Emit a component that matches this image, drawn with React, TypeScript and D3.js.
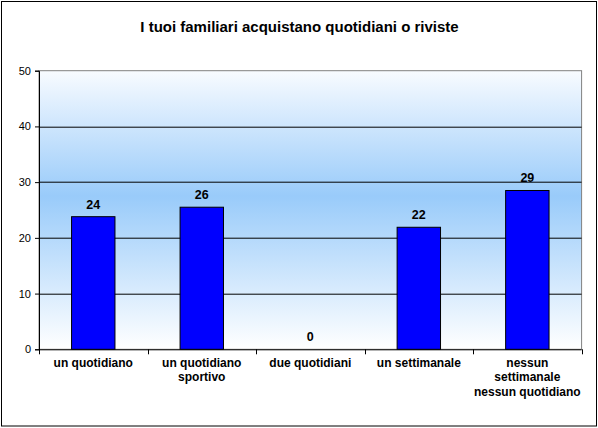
import { useEffect, useRef } from "react";
import * as d3 from "d3";

const categories = [
  ["un quotidiano"],
  ["un quotidiano", "sportivo"],
  ["due quotidiani"],
  ["un settimanale"],
  ["nessun", "settimanale", "nessun quotidiano"],
];
const values = [23.8, 25.5, 0, 21.9, 28.5];
const valueLabels = ["24", "26", "0", "22", "29"];
const yTicks = [0, 10, 20, 30, 40, 50];

const W = 598;
const H = 428;

export default function App() {
  const svgRef = useRef<SVGSVGElement>(null);

  useEffect(() => {
    const svg = d3.select(svgRef.current);
    svg.selectAll("*").remove();

    const margin = { top: 70.7, right: 16.4, bottom: 78.7, left: 39 };
    const width = W - margin.left - margin.right;
    const height = H - margin.top - margin.bottom;

    // outer frame
    svg.append("rect")
      .attr("x", 1.5).attr("y", 1.5)
      .attr("width", W - 3).attr("height", H - 3.5)
      .attr("fill", "#fff").attr("stroke", "#000").attr("stroke-width", 1);

    svg.append("text")
      .attr("x", W / 2 + 0.5).attr("y", 32)
      .attr("text-anchor", "middle")
      .style("font-family", "Arial, 'Liberation Sans', sans-serif")
      .style("font-weight", "bold").style("font-size", "15px")
      .text("I tuoi familiari acquistano quotidiani o riviste");

    const defs = svg.append("defs");
    const grad = defs.append("linearGradient")
      .attr("id", "bg").attr("x1", 0).attr("y1", 0).attr("x2", 0).attr("y2", 1);
    grad.append("stop").attr("offset", "0%").attr("stop-color", "#f8fbff");
    grad.append("stop").attr("offset", "45%").attr("stop-color", "#99cbfa");
    grad.append("stop").attr("offset", "100%").attr("stop-color", "#ffffff");

    const g = svg.append("g").attr("transform", `translate(${margin.left},${margin.top})`);

    const x = d3.scaleBand<number>()
      .domain(d3.range(categories.length))
      .range([0, width])
      .paddingInner(0.6).paddingOuter(0.3);
    const y = d3.scaleLinear().domain([0, 50]).range([height, 0]);

    g.append("rect")
      .attr("width", width).attr("height", height)
      .attr("fill", "url(#bg)").attr("stroke", "#808080").attr("stroke-width", 1);

    // gridlines
    g.selectAll(".grid")
      .data(yTicks.filter(t => t > 0 && t < 50))
      .enter().append("line")
      .attr("x1", 0).attr("x2", width)
      .attr("y1", d => Math.round(y(d)) + 0.5).attr("y2", d => Math.round(y(d)) + 0.5)
      .attr("stroke", "#000").attr("stroke-width", 1);

    // bars
    g.selectAll(".bar")
      .data(values)
      .enter().append("rect")
      .attr("x", (_, i) => x(i)!)
      .attr("y", d => y(d))
      .attr("width", x.bandwidth())
      .attr("height", d => height - y(d))
      .attr("fill", "#0000ff").attr("stroke", "#000").attr("stroke-width", 1);

    // value labels
    g.selectAll(".vlabel")
      .data(values)
      .enter().append("text")
      .attr("x", (_, i) => x(i)! + x.bandwidth() / 2)
      .attr("y", d => y(d) - 8)
      .attr("text-anchor", "middle")
      .style("font-family", "Arial, 'Liberation Sans', sans-serif")
      .style("font-weight", "bold").style("font-size", "12.5px")
      .text((_, i) => valueLabels[i]);

    // y axis
    const yAxis = g.append("g")
      .call(d3.axisLeft(y).tickValues(yTicks).tickSize(4).tickPadding(4).tickFormat(d3.format("d")));
    yAxis.select(".domain").attr("stroke", "#000");
    yAxis.selectAll("text")
      .style("font-family", "Arial, 'Liberation Sans', sans-serif")
      .style("font-size", "11px").attr("fill", "#000");

    // x axis with ticks at category boundaries
    const xb = g.append("g").attr("transform", `translate(0,${height})`);
    xb.append("line").attr("x1", 0).attr("x2", width).attr("y1", 0.5).attr("y2", 0.5).attr("stroke", "#000");
    const step = width / categories.length;
    xb.selectAll(".xt")
      .data(d3.range(categories.length + 1))
      .enter().append("line")
      .attr("x1", d => Math.round(d * step) + 0.5).attr("x2", d => Math.round(d * step) + 0.5)
      .attr("y1", 0).attr("y2", 5).attr("stroke", "#000");

    const labels = xb.selectAll(".xl")
      .data(categories)
      .enter().append("text")
      .attr("text-anchor", "middle")
      .attr("transform", (_, i) => `translate(${x(i)! + x.bandwidth() / 2},17.5)`)
      .style("font-family", "Arial, 'Liberation Sans', sans-serif")
      .style("font-weight", "bold").style("font-size", "12px");
    labels.selectAll("tspan")
      .data(d => d)
      .enter().append("tspan")
      .attr("x", 0)
      .attr("dy", (_, j) => (j === 0 ? 0 : 14.5))
      .text(d => d);
  }, []);

  return (
    <div style={{ position: "absolute", left: 0, top: 0 }}>
      <svg ref={svgRef} width={W} height={H} style={{ display: "block" }} />
    </div>
  );
}
